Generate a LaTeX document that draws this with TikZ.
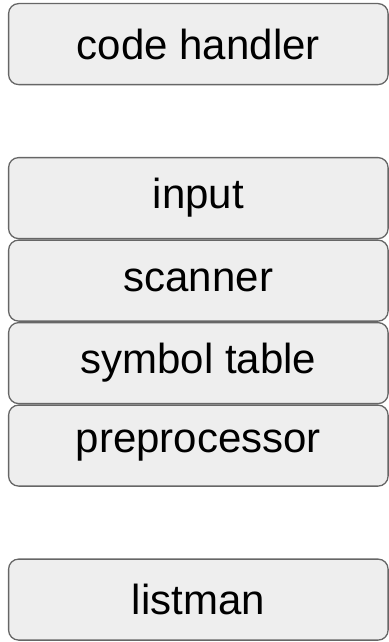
\documentclass[tikz,border=0pt]{standalone}
\usepackage{fontspec}
\setmainfont{Liberation Sans}
\usetikzlibrary{positioning}

\definecolor{boxfill}{HTML}{EEEEEE}
\definecolor{boxline}{HTML}{666666}

\tikzset{
    module/.style={draw=boxline, fill=boxfill, line width=1.3pt, rounded corners=10pt,
        minimum width=379.5pt, minimum height=81pt, inner sep=0pt, outer sep=0pt,
        font=\fontsize{42}{48}\selectfont}
}

\begin{document}
\begin{tikzpicture}[x=1pt, y=1pt]
    \useasboundingbox (0, 0) rectangle (388, -642);

    % top module
    \node[module, anchor=north west] (handler) at (8.6, -3.6) {code handler};

    % stacked modules
    \node[module, below=73pt of handler] (input) {input};
    \node[module, below=1.5pt of input] (scanner) {scanner};
    \node[module, below=1.5pt of scanner] (symtab) {symbol table};
    \node[module, below=1.5pt of symtab] (preproc) {preprocessor};

    % bottom module
    \node[module, below=73pt of preproc] (listman) {listman};
\end{tikzpicture}
\end{document}
